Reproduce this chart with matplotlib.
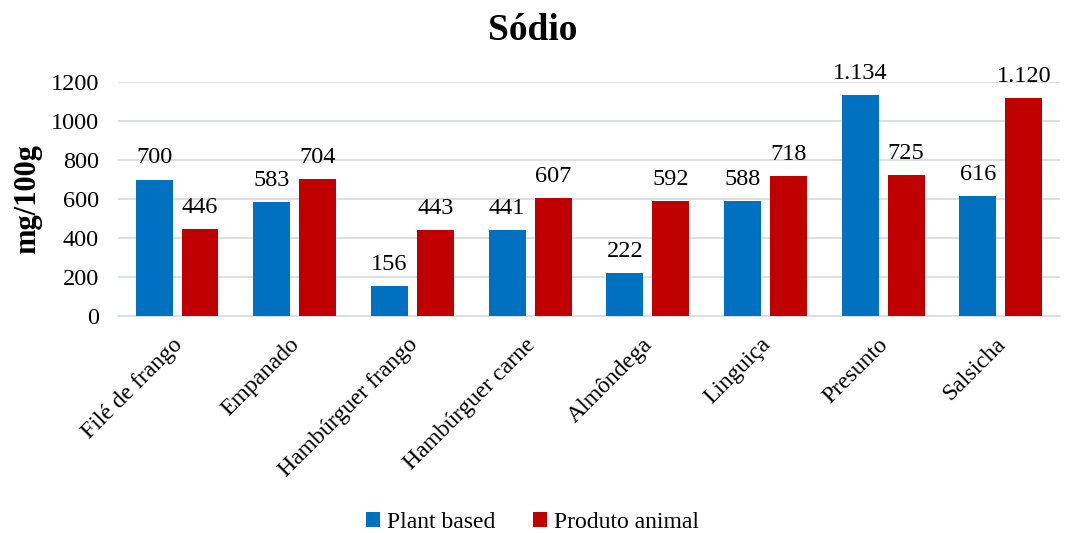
import matplotlib
matplotlib.use("Agg")
import matplotlib.pyplot as plt
import matplotlib.transforms as mtransforms
import numpy as np

categories = ["Filé de frango", "Empanado", "Hambúrguer frango", "Hambúrguer carne",
              "Almôndega", "Linguiça", "Presunto", "Salsicha"]
plant_based = [700, 583, 156, 441, 222, 588, 1134, 616]
produto_animal = [446, 704, 443, 607, 592, 718, 725, 1120]
series_names = ["Plant based", "Produto animal"]
yticks = [0, 200, 400, 600, 800, 1000, 1200]

plt.rcParams["font.family"] = ["Liberation Serif", "DejaVu Serif"]

BLUE = "#0070C0"
RED = "#C00000"
GRID = "#D9DDE3"


def fmt(v):
    # thousands separator in pt-BR style
    return f"{v:,}".replace(",", ".")


fig = plt.figure(figsize=(10.65, 5.33), dpi=100)
ax = fig.add_axes([0.111, 0.407, 0.884, 0.439])

x = np.arange(len(categories))
w = 0.314
off = 0.195
b1 = ax.bar(x - off, plant_based, w, color=BLUE, label=series_names[0], zorder=3)
b2 = ax.bar(x + off, produto_animal, w, color=RED, label=series_names[1], zorder=3)

for bars, vals in ((b1, plant_based), (b2, produto_animal)):
    for rect, v in zip(bars, vals):
        ax.annotate(fmt(v), (rect.get_x() + rect.get_width() / 2, v),
                    xytext=(0, 8), textcoords="offset points",
                    ha="center", va="bottom", fontsize=17.5, clip_on=False)

ax.set_xlim(-0.5, len(categories) - 0.5)
ax.set_ylim(0, 1200)
ax.set_yticks(yticks)
ax.set_yticklabels([str(t) for t in yticks], fontsize=17.5)
ax.yaxis.grid(True, color=GRID, linewidth=1.3, zorder=0)
ax.set_axisbelow(True)
for s in ("top", "right", "left"):
    ax.spines[s].set_visible(False)
ax.spines["bottom"].set_color(GRID)
ax.spines["bottom"].set_linewidth(1.3)
ax.tick_params(axis="y", length=0, pad=14)

ax.set_xticks(x)
ax.set_xticklabels(categories, rotation=45, ha="right", rotation_mode="anchor", fontsize=17)
ax.tick_params(axis="x", length=0, pad=13)
shift = mtransforms.ScaledTranslation(-4 / 72, 0, fig.dpi_scale_trans)
for lbl in ax.get_xticklabels():
    lbl.set_transform(lbl.get_transform() + shift)

ax.set_ylabel("mg/100g", fontsize=22, fontweight="bold", labelpad=6)
fig.text(0.5, 1 - 30 / 533, "Sódio", fontsize=27, fontweight="bold",
         ha="center", va="center")

fig.legend(handles=[b1, b2], labels=series_names, loc="lower center",
           bbox_to_anchor=(0.5, -0.04), ncol=2, frameon=False,
           prop={"family": "Liberation Serif", "size": 17},
           handlelength=0.6, handleheight=0.6, handletextpad=0.3, columnspacing=1.6)

fig.savefig("out.png", dpi=100)
